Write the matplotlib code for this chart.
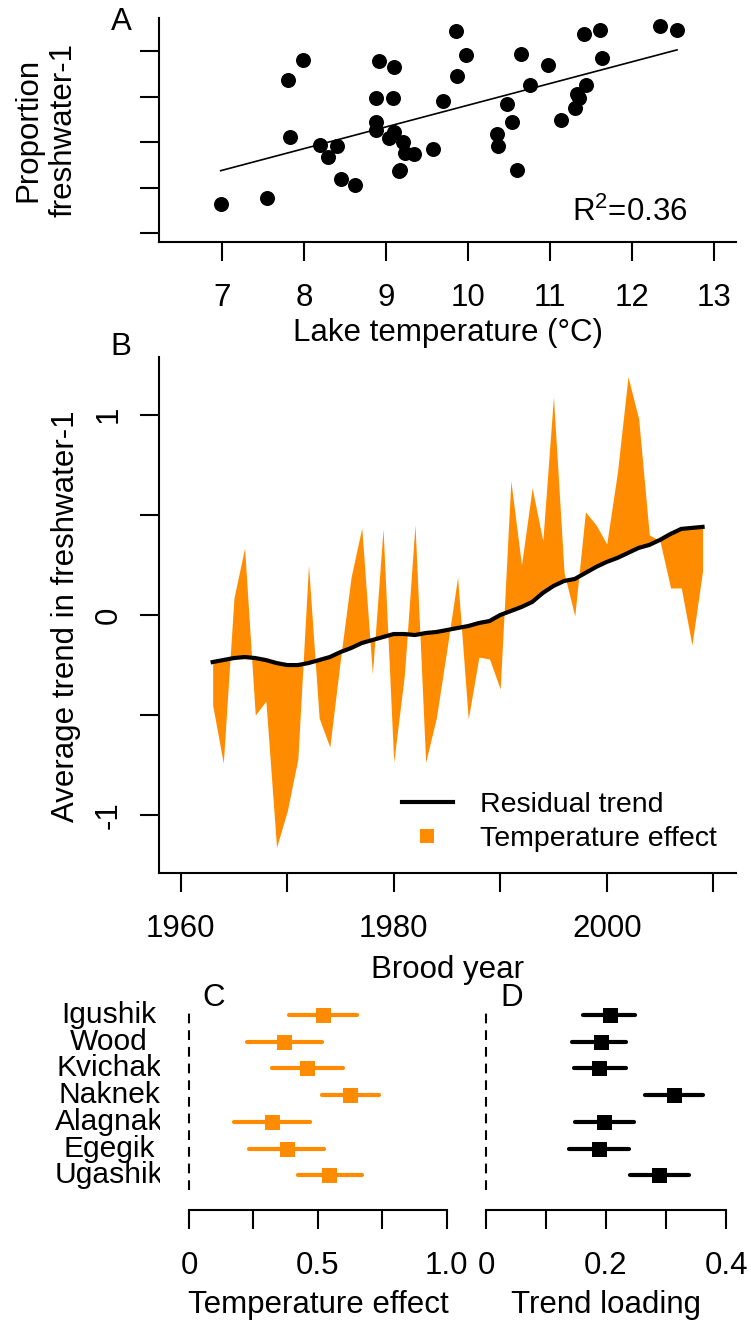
import numpy as np
import matplotlib
matplotlib.use('Agg')
import matplotlib.pyplot as plt
from matplotlib.lines import Line2D
from matplotlib.transforms import Bbox, TransformedBbox

plt.rcParams['font.family'] = ['Liberation Sans', 'DejaVu Sans']
plt.rcParams['mathtext.fontset'] = 'custom'
plt.rcParams['mathtext.rm'] = 'Liberation Sans'
plt.rcParams['lines.scale_dashes'] = False

# panel A: lake temperature vs proportion freshwater-1 (y in axis tick units, labels hidden)
lake_temp = [6.98, 7.54, 7.80, 7.99, 7.83, 8.19, 8.29, 8.40, 8.45, 8.62,
             8.87, 8.91, 8.87, 8.87, 9.09, 9.08, 9.09, 9.04, 9.20, 9.23,
             9.34, 9.16, 9.17, 9.57, 9.69, 9.85, 9.97, 9.87, 10.35, 10.37,
             10.47, 10.54, 10.60, 10.65, 10.76, 10.97, 11.14, 11.31, 11.33, 11.35,
             11.44, 11.41, 11.61, 11.63, 12.34, 12.55]
prop_fw1 = [0.65, 0.77, 3.37, 3.81, 2.11, 1.93, 1.67, 1.91, 1.20, 1.05,
            2.97, 3.79, 2.44, 2.27, 3.64, 2.98, 2.23, 2.09, 2.01, 1.76,
            1.75, 1.37, 1.40, 1.85, 2.91, 4.45, 3.91, 3.45, 2.18, 1.91,
            2.83, 2.44, 1.38, 3.94, 3.25, 3.69, 2.48, 2.74, 3.05, 2.98,
            3.25, 4.38, 4.47, 3.85, 4.54, 4.47]

# panel B: residual trend and trend + temperature effect
brood_year = list(range(1963, 2010))
resid_trend = [-0.235, -0.225, -0.215, -0.21, -0.215, -0.225, -0.24, -0.25, -0.25, -0.24,
               -0.225, -0.21, -0.185, -0.165, -0.14, -0.125, -0.11, -0.095, -0.095, -0.10,
               -0.09, -0.085, -0.075, -0.065, -0.055, -0.04, -0.03, 0.0, 0.02, 0.04,
               0.065, 0.11, 0.145, 0.17, 0.18, 0.21, 0.24, 0.265, 0.285, 0.31,
               0.335, 0.35, 0.375, 0.405, 0.43, 0.435, 0.44]
with_temp = [-0.45, -0.74, 0.085, 0.335, -0.50, -0.43, -1.16, -0.98, -0.72, 0.25,
             -0.515, -0.66, -0.22, 0.19, 0.435, -0.295, 0.43, -0.735, -0.30, 0.45,
             -0.735, -0.515, -0.17, 0.19, -0.52, -0.21, -0.22, -0.37, 0.67, 0.25,
             0.635, 0.37, 1.09, 0.21, -0.005, 0.515, 0.45, 0.355, 0.71, 1.19,
             0.98, 0.40, 0.37, 0.135, 0.135, -0.15, 0.22]

# panels C and D
rivers = ['Igushik', 'Wood', 'Kvichak', 'Naknek', 'Alagnak', 'Egegik', 'Ugashik']
temp_eff = [0.521, 0.370, 0.459, 0.625, 0.321, 0.379, 0.545]
temp_lo = [0.389, 0.224, 0.322, 0.515, 0.175, 0.234, 0.422]
temp_hi = [0.653, 0.515, 0.599, 0.736, 0.470, 0.524, 0.671]
loading = [0.206, 0.191, 0.189, 0.313, 0.197, 0.189, 0.289]
load_lo = [0.162, 0.144, 0.146, 0.265, 0.148, 0.138, 0.240]
load_hi = [0.248, 0.234, 0.233, 0.362, 0.247, 0.239, 0.339]

W, H = 751, 1324
orange = '#FF8C00'
fs = 22.5
fig = plt.figure(figsize=(W / 100, H / 100), dpi=100)


def rect(l, t, r, b):
    return [l / W, 1 - b / H, (r - l) / W, (b - t) / H]


def ftext(x, y, s, **kw):
    kw.setdefault('fontsize', fs)
    return fig.text(x / W, 1 - y / H, s, ha=kw.pop('ha', 'center'), va=kw.pop('va', 'center'), **kw)


def style(ax):
    for s in ['top', 'right']:
        ax.spines[s].set_visible(False)
    for s in ['left', 'bottom']:
        ax.spines[s].set_linewidth(1.5)
    ax.tick_params(direction='out', length=13.9, width=1.5, labelsize=fs, pad=15.6)


# ---- A
axA = fig.add_axes(rect(159.3, 18.3, 736, 241.7))
style(axA)
axA.plot(lake_temp, prop_fw1, 'o', color='black', ms=10.8, mew=0)
coef = np.polyfit(lake_temp, prop_fw1, 1)
xs = np.array([min(lake_temp), max(lake_temp)])
axA.plot(xs, np.polyval(coef, xs), color='black', lw=1.2)
axA.set_xlim(6.231, 13.27)
axA.set_ylim(-0.184, 4.72)
axA.set_xticks(range(7, 14))
axA.set_yticks([0, 1, 2, 3, 4])
axA.set_yticklabels([])
axA.text(12.68, 0.47, r'R$^{\mathrm{2}}$=0.36', ha='right', va='center', fontsize=fs)
ftext(447.6, 333, 'Lake temperature (°C)')
ftext(46, 130, 'Proportion\nfreshwater-1', rotation=90, linespacing=1.2)
ftext(121.7, 21.7, 'A')

# ---- B
axB = fig.add_axes(rect(159.3, 356.7, 736, 873.3))
style(axB)
axB.fill_between(brood_year, resid_trend, with_temp, color=orange, lw=0)
axB.plot(brood_year, resid_trend, color='black', lw=3)
axB.set_xlim(1957.99, 2012.14)
axB.set_ylim(-1.29, 1.29)
axB.set_xticks(range(1960, 2011, 10))
axB.set_xticklabels(['1960', '', '1980', '', '2000', ''])
axB.set_yticks([-1, -0.5, 0, 0.5, 1])
axB.set_yticklabels(['-1', '', '0', '', '1'])
axB.tick_params(axis='y', pad=12)
for lbl in axB.get_yticklabels():
    lbl.set_rotation(90)
    lbl.set_va('center')
handles = [Line2D([], [], color='black', lw=3),
           Line2D([], [], marker='s', ls='none', color=orange, ms=9.4, mew=0)]
axB.legend(handles, ['Residual trend', 'Temperature effect'], frameon=False,
           loc='center left', bbox_to_anchor=(401.7 / W, 1 - 822 / H),
           bbox_transform=fig.transFigure, fontsize=20.5, handlelength=1.8,
           handletextpad=0.95, labelspacing=0.25, borderpad=0, borderaxespad=0)
ftext(447.6, 970, 'Brood year')
ftext(66, 616, 'Average trend in freshwater-1', rotation=90)
ftext(120.7, 346.7, 'B')

# ---- C and D
ypos = np.arange(len(rivers))


def forest(ax, vals, lo, hi, color, xmax, ticks, labels):
    for s in ['top', 'right', 'left']:
        ax.spines[s].set_visible(False)
    ax.spines['bottom'].set_linewidth(1.5)
    ax.spines['bottom'].set_position(('outward', 14.4))
    ax.spines['bottom'].set_bounds(0, xmax)
    ax.tick_params(axis='x', direction='out', length=13.9, width=1.5, labelsize=fs, pad=15.6)
    ax.set_yticks([])
    ax.axvline(0, color='black', lw=1.5, ls=(0, (7, 5)))
    lc = ax.hlines(ypos, lo, hi, color=color, lw=3)
    lc.set_capstyle('round')
    ax.plot(vals, ypos, 's', color=color, ms=10.8, mew=0)
    ax.set_ylim(6.55, -0.30)
    ax.set_xticks(ticks)
    ax.set_xticklabels(labels)


axC = fig.add_axes(rect(178.7, 1007, 457, 1190))
forest(axC, temp_eff, temp_lo, temp_hi, orange, 1.0,
       [0, 0.25, 0.5, 0.75, 1.0], ['0', '', '0.5', '', '1.0'])
axC.set_xlim(-0.04, 1.04)
axD = fig.add_axes(rect(476.4, 1007, 735.6, 1190))
forest(axD, loading, load_lo, load_hi, 'black', 0.4,
       [0, 0.1, 0.2, 0.3, 0.4], ['0', '', '0.2', '', '0.4'])
axD.set_xlim(-0.016, 0.416)

# river names are clipped on the right like in the original
clip = TransformedBbox(Bbox([[0, 0], [160 / W, 1]]), fig.transFigure)
for i, name in enumerate(rivers):
    t = ftext(109, 1015 + 26.72 * i, name, fontsize=21.6)
    t.set_clip_box(clip)
    t.set_clip_on(True)

ftext(318, 1305, 'Temperature effect')
ftext(606, 1305, 'Trend loading')
ftext(213.3, 998, 'C')
ftext(511.7, 998, 'D')

fig.savefig('out.png', dpi=100)
